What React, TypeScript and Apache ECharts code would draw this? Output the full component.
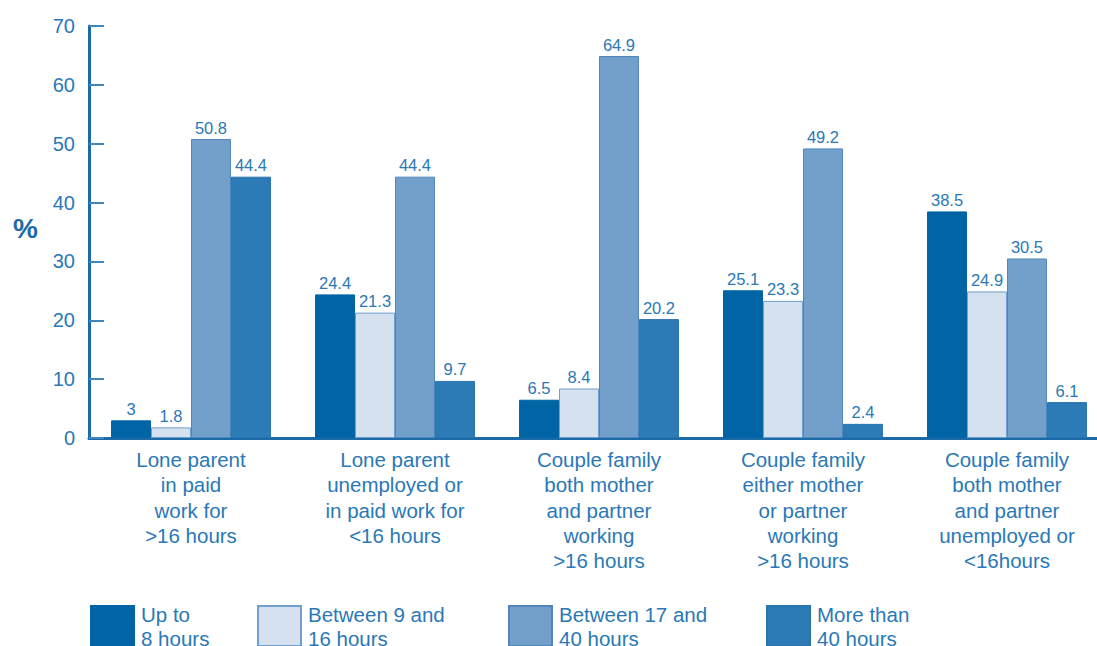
import React, { useEffect, useRef } from "react";
import * as echarts from "echarts";

const categories = [
  "Lone parent\nin paid\nwork for\n>16 hours",
  "Lone parent\nunemployed or\nin paid work for\n<16 hours",
  "Couple family\nboth mother\nand partner\nworking\n>16 hours",
  "Couple family\neither mother\nor partner\nworking\n>16 hours",
  "Couple family\nboth mother\nand partner\nunemployed or\n<16hours",
];
const seriesNames = ["Up to\n8 hours", "Between 9 and\n16 hours", "Between 17 and\n40 hours", "More than\n40 hours"];
const upTo8 = [3, 24.4, 6.5, 25.1, 38.5];
const between9and16 = [1.8, 21.3, 8.4, 23.3, 24.9];
const between17and40 = [50.8, 44.4, 64.9, 49.2, 30.5];
const moreThan40 = [44.4, 9.7, 20.2, 2.4, 6.1];

const colors = ["#0064a5", "#d5e1ee", "#739fcb", "#2c7bb6"];
const borders = ["#0064a5", "#6f9fcc", "#4f87bd", "#2a74ad"];
const textColor = "#2a78b6";
const axisColor = "#1d6aa8";
const font = "Liberation Sans";

export default function App() {
  const ref = useRef<HTMLDivElement>(null);
  useEffect(() => {
    const chart = echarts.init(ref.current!, null, { renderer: "svg" });
    const allData = [upTo8, between9and16, between17and40, moreThan40];
    const legendLefts = [90, 257, 508, 766];
    chart.setOption({
      animation: false,
      textStyle: { fontFamily: font },
      grid: { left: 89, top: 26, width: 1020, bottom: 208, outerBoundsMode: "none", containLabel: false },
      legend: seriesNames.map((n, i) => ({
        data: [n],
        left: legendLefts[i],
        top: 602,
        padding: 0,
        itemWidth: 43,
        itemHeight: 40,
        itemGap: 0,
        icon: "rect",
        selectedMode: false,
        textStyle: { color: textColor, fontSize: 20.5, lineHeight: 24, fontFamily: font, padding: [0, 0, 0, 2] },
      })),
      graphic: [
        {
          type: "text",
          left: 13,
          top: 214,
          style: { text: "%", fill: axisColor, fontSize: 28, fontWeight: "bold", fontFamily: font },
        },
      ],
      xAxis: {
        type: "category",
        data: categories,
        axisLine: { lineStyle: { color: axisColor, width: 3 } },
        axisTick: { inside: true, length: 9, lineStyle: { color: "#5a95c8", width: 1 } },
        axisLabel: { color: textColor, fontSize: 20.5, lineHeight: 25.3, margin: 9, fontFamily: font, interval: 0 },
      },
      yAxis: {
        type: "value",
        min: 0,
        max: 70,
        interval: 10,
        axisLine: { show: true, lineStyle: { color: axisColor, width: 3 } },
        axisTick: { show: true, inside: true, length: 15, lineStyle: { color: "#3f86c0", width: 2 } },
        axisLabel: { color: textColor, fontSize: 20, margin: 14, fontFamily: font },
        splitLine: { show: false },
      },
      series: seriesNames.map((n, i) => ({
        name: n,
        type: "bar",
        data: allData[i],
        barGap: "0%",
        barCategoryGap: "21.6%",
        itemStyle: { color: colors[i], borderColor: borders[i], borderWidth: 1 },
        label: { show: true, position: "top", distance: 3, color: textColor, fontSize: 16.5, fontFamily: font },
      })),
    });
    return () => chart.dispose();
  }, []);
  return (
    <div style={{ position: "absolute", left: 0, top: 0, width: 1097, height: 646, overflow: "hidden" }}>
      <div ref={ref} style={{ width: 1097, height: 646 }} />
    </div>
  );
}
